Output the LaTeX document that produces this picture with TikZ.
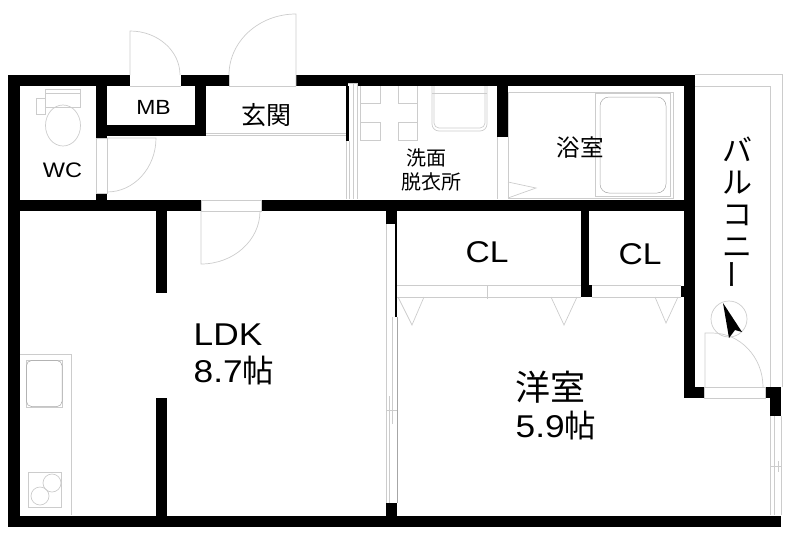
\documentclass[tikz,border=0pt]{standalone}
\usepackage{fontspec}
\setmainfont[FakeStretch=1.12]{Liberation Sans}
\newfontfamily\jpfont{Noto Sans CJK JP}
\usetikzlibrary{positioning}

\begin{document}
\begin{tikzpicture}[
            x=1pt, y=-1pt,
            wall/.style={fill=black, draw=none},
            fixture/.style={draw=black!20, line width=0.7pt},
            fineline/.style={draw=black!35, line width=0.5pt},
            roomlabel/.style={inner sep=0pt, align=center}
        ]
            \useasboundingbox (0,0) rectangle (800,536);
            % Balcony outline
            \draw[fixture] (695,74) -- (782,74) -- (782,387);
            \draw[fixture] (695,86) -- (770,86) -- (770,387);
            % Walls
            \fill[wall] (8,75) rectangle (130,86); % top wall
            \fill[wall] (181,75) rectangle (229,86);
            \fill[wall] (296,75) rectangle (348,86);
            \fill[wall] (357,75) rectangle (695,86);
            \fill[wall] (346,75) rectangle (357,83);
            \fill[wall] (8,75) rectangle (20,527); % left wall
            \fill[wall] (8,515.5) rectangle (781,527); % bottom wall
            \fill[wall] (684,75) rectangle (695,398); % right wall
            \fill[wall] (684,387) rectangle (704,398);
            \fill[wall] (765,387) rectangle (781,398);
            \fill[wall] (770,387) rectangle (781,416);
            \fill[wall] (8,200) rectangle (201,211); % middle wall
            \fill[wall] (261,200) rectangle (695,211);
            \fill[wall] (96,75) rectangle (107,138); % WC and MB
            \fill[wall] (96,193) rectangle (107,200);
            \fill[wall] (96,125) rectangle (206,136);
            \fill[wall] (195,75) rectangle (206,136);
            \fill[wall] (156,211) rectangle (167,293); % LDK
            \fill[wall] (156,398) rectangle (167,515.5);
            \fill[wall] (497,75) rectangle (508,137); % bath
            \fill[wall] (386,211) rectangle (397,224); % bedroom
            \fill[wall] (394.5,224) rectangle (397,317);
            \fill[wall] (386,503) rectangle (397,515.5);
            \fill[wall] (581,211) rectangle (589,285); % closets
            \fill[wall] (581,285) rectangle (592,297);
            \fill[wall] (681,286) rectangle (684,297);
            \fill[wall] (346,86) rectangle (349,141); % washroom door
            % Doors
            \draw[fixture] (130,75) -- (130,31) arc[start angle=90, end angle=0, x radius=50, y radius=-44];
            \draw[fixture] (130,86) -- (181,86);
            \draw[fixture] (229,75) arc[start angle=180, end angle=90, x radius=67, y radius=-61] -- (296,86);
            \draw[fixture] (229,75) -- (229,86) -- (296,86);
            \draw[fixture] (96,138) rectangle (107,193);
            \draw[fixture] (107,138) -- (156,138) arc[start angle=0, end angle=90, x radius=49, y radius=54];
            \draw[fixture] (201,200) rectangle (261,211);
            \draw[fixture] (201,211) -- (201,264) arc[start angle=90, end angle=0, x radius=59, y radius=53];
            \draw[fixture] (704,387) rectangle (765,398);
            \draw[fixture] (705,387) -- (705,333) -- (712,333) arc[start angle=90, end angle=0, x radius=51, y radius=-54];
            % Sliding doors and windows
            \draw[fixture] (206,133) -- (346,133);
            \draw[fixture] (206,135) -- (346,135);
            \draw[fixture] (346,141) -- (346,199);
            \draw[fixture] (349,141) -- (349,199);
            \draw[fixture] (353,83) -- (353,199);
            \draw[fixture] (357,83) -- (357,199);
            \draw[fixture] (348,83) -- (357,83);
            \draw[fixture] (386,224) -- (386,503);
            \draw[fixture] (389,396) -- (389,503);
            \draw[fixture] (392,317) -- (392,424);
            \draw[fineline] (397,317) -- (397,503);
            \draw[fixture] (386,410) -- (397,410);
            \draw[fixture] (770,416) -- (770,515);
            \draw[fixture] (774,416) -- (774,515);
            \draw[fixture] (781,416) -- (781,515);
            \draw[fixture] (770,466) -- (781,466);
            \draw[fixture] (778,461) -- (778,472);
            % Closet doors
            \draw[fixture] (397,285) -- (581,285);
            \draw[fixture] (397,297) -- (581,297);
            \draw[fixture] (487,285) -- (487,299);
            \draw[fixture] (592,285) -- (681,285);
            \draw[fixture] (592,297) -- (681,297);
            \draw[fixture] (398,297) -- (412,325) -- (424,297);
            \draw[fixture] (551,297) -- (564,325) -- (577,297);
            \draw[fixture] (655,297) -- (666,323) -- (678,297);
            % Toilet
            \draw[fixture] (45.5,89) rectangle (80.5,107);
            \draw[fixture] (45.5,93) -- (80.5,93);
            \draw[fixture] (36.5,98) rectangle (45.5,114);
            \draw[fixture] (63,125.5) ellipse[x radius=17.5, y radius=20.5];
            % Washroom
            \draw[fixture] (360,86) -- (360,140) -- (380,140) -- (380,122) -- (360,122);
            \draw[fixture] (360,103) -- (380,103) -- (380,86);
            \draw[fixture] (417,86) -- (417,140) -- (398,140) -- (398,122) -- (417,122);
            \draw[fixture] (417,103) -- (398,103) -- (398,86);
            \draw[fixture, rounded corners=7pt] (432,86) -- (432,131) -- (487,131) -- (487,86);
            \draw[fixture, rounded corners=5pt] (434,86) -- (434,128) -- (485,128) -- (485,86);
            \draw[fixture] (432,93) -- (487,93);
            % Bath
            \draw[fixture] (497,137) -- (497,199);
            \draw[fixture] (508,92) rectangle (673,198);
            \draw[fixture] (595,93) rectangle (670,196);
            \draw[fineline, rounded corners=9pt] (600,97) rectangle (666,193);
            \draw[fixture] (508,182) -- (536,188) -- (508,198);
            % Kitchen
            \draw[fixture] (20,354) -- (71,354) -- (71,515);
            \draw[fixture] (26,360) rectangle (62.5,407);
            \draw[fineline, rounded corners=5pt] (26.5,360.5) rectangle (62,406.5);
            \draw[fixture] (28,472) rectangle (61,507);
            \draw[fixture] (52,483) circle[radius=9];
            \draw[fixture] (40,496) circle[radius=9];
            % Compass
            \draw[fixture] (729,319) circle[radius=18];
            \fill[wall] (723,303) -- (742,332) -- (735,330) -- (729,338) -- cycle;
            % Labels
            \node[roomlabel, font=\fontsize{20.5}{20.5}\selectfont] (mb) at (153.5,107.5) {MB};
            \node[roomlabel, font=\fontsize{21}{21}\selectfont] (wc) at (62.5,170) {WC};
            \node[roomlabel, font=\jpfont\fontsize{25}{25}\selectfont] (genkan) at (266,115) {玄関};
            \node[roomlabel, font=\jpfont\fontsize{20}{24}\selectfont] (senmen) at (431,170) {\hspace*{-9pt}洗面\\脱衣所};
            \node[roomlabel, font=\jpfont\fontsize{23.5}{24}\selectfont] (yokushitsu) at (580,148) {浴室};
            \node[roomlabel, font=\fontsize{30}{30}\selectfont] (cl1) at (487,252) {CL};
            \node[roomlabel, font=\fontsize{30}{30}\selectfont] (cl2) at (640,254) {CL};
            \node[roomlabel, align=left, font=\fontsize{31.5}{37}\selectfont] (ldk) at (234,354) {LDK\\8.7{\jpfont 帖}};
            \node[roomlabel, align=left, font=\fontsize{31.5}{37}\selectfont] (yoshitsu) at (556,406) {{\jpfont\fontsize{35}{37}\selectfont 洋室}\\5.9{\jpfont 帖}};
            \node[roomlabel, font=\jpfont\fontsize{30}{32}\selectfont] (balcony) at (737,213) {バ\\ル\\コ\\ニ\\\rotatebox{90}{ー}};
        \end{tikzpicture}
\end{document}
